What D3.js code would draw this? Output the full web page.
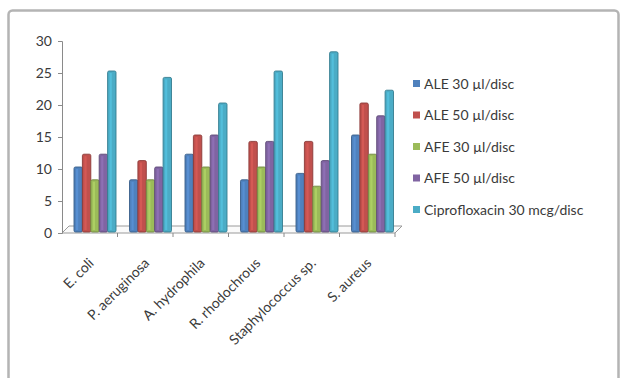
<!DOCTYPE html>
<html>
<head>
<meta charset="utf-8">
<script src="https://cdn.jsdelivr.net/npm/d3@7"></script>
<style>
  html, body { margin: 0; padding: 0; background: #fff; }
  svg { display: block; }
  text { font-family: Lato, "Open Sans", sans-serif; fill: #3a3a3a; }
</style>
</head>
<body>
<svg id="chart" width="622" height="378"></svg>
<script>
// Zone of inhibition (mm) per organism and treatment
const categories = ["E. coli", "P. aeruginosa", "A. hydrophila", "R. rhodochrous", "Staphylococcus sp.", "S. aureus"];
const seriesNames = ["ALE 30 \u00b5l/disc", "ALE 50 \u00b5l/disc", "AFE 30 \u00b5l/disc", "AFE 50 \u00b5l/disc", "Ciprofloxacin 30 mcg/disc"];
const ale30 = [10, 8, 12, 8, 9, 15];
const ale50 = [12, 11, 15, 14, 14, 20];
const afe30 = [8, 8, 10, 10, 7, 12];
const afe50 = [12, 10, 15, 14, 11, 18];
const cipro = [25, 24, 20, 25, 28, 22];
const yTicks = [0, 5, 10, 15, 20, 25, 30];
const colors = ["#4F81BD", "#C0504D", "#9BBB59", "#8064A2", "#4BACC6"];

const seriesValues = [ale30, ale50, afe30, afe50, cipro];

const svg = d3.select("#chart");

// outer frame
svg.append("rect")
  .attr("x", 8.5).attr("y", 10.5).attr("width", 610).attr("height", 380)
  .attr("rx", 4)
  .attr("fill", "none").attr("stroke", "#b4b4b4").attr("stroke-width", 2.5);

const plot = { left: 62, right: 395, top: 41, bottom: 233 };
const depth = 7; // floor depth offset

const x0 = d3.scaleBand().domain(categories).range([plot.left, plot.right]).paddingInner(0).paddingOuter(0);
const x1 = d3.scaleBand().domain(d3.range(seriesNames.length))
  .range([12, 54]).padding(0);
const y = d3.scaleLinear().domain([0, 30]).range([plot.bottom, plot.top]);

// floor
svg.append("path")
  .attr("d", `M${plot.left},${plot.bottom} L${plot.left + depth},${plot.bottom - depth} L${plot.right + depth},${plot.bottom - depth} L${plot.right},${plot.bottom} Z`)
  .attr("fill", "#fafafa").attr("stroke", "#9a9a9a").attr("stroke-width", 1);

// y axis
const yAxis = d3.axisLeft(y).tickValues(yTicks).tickSize(4).tickPadding(6);
const gy = svg.append("g").attr("transform", `translate(${plot.left},0)`).call(yAxis);
gy.select(".domain").attr("stroke", "#8a8a8a");
gy.selectAll(".tick line").attr("stroke", "#8a8a8a");
gy.selectAll("text").style("font-size", "14px").attr("fill", "#3a3a3a");

// category tick marks along the floor front edge
const tickPos = categories.map(c => x0(c) + x0.bandwidth());
svg.append("g").selectAll("line").data(tickPos).join("line")
  .attr("x1", d => d).attr("x2", d => d)
  .attr("y1", plot.bottom).attr("y2", plot.bottom + 4)
  .attr("stroke", "#8a8a8a");

// bars (with a thin top face for the 3-D look)
const groups = svg.append("g").selectAll("g").data(categories).join("g")
  .attr("transform", d => `translate(${x0(d)},0)`);

groups.each(function(cat, ci) {
  const g = d3.select(this);
  seriesValues.forEach((vals, si) => {
    const v = vals[ci];
    const bx = x1(si);
    const bw = x1.bandwidth();
    const col = d3.color(colors[si]);
    g.append("rect")
      .attr("x", bx).attr("y", y(v) - 2)
      .attr("width", bw).attr("height", plot.bottom - 1 - y(v) + 2)
      .attr("rx", 1.5)
      .attr("fill", colors[si])
      .attr("stroke", col.darker(0.9)).attr("stroke-width", 0.9);
    g.append("rect")
      .attr("x", bx + 2).attr("y", y(v))
      .attr("width", 2.2).attr("height", Math.max(0, plot.bottom - 3 - y(v)))
      .attr("fill", col.brighter(0.6)).attr("opacity", 0.45);
  });
});

// category labels
svg.append("g").selectAll("text").data(categories).join("text")
  .attr("transform", d => `translate(${x0(d) + x0.bandwidth() / 2 + 5},${plot.bottom + 31}) rotate(-45)`)
  .attr("text-anchor", "end")
  .style("font-size", "14px")
  .text(d => d);

// legend
const legend = svg.append("g").attr("transform", "translate(413,84)");
const items = legend.selectAll("g").data(seriesNames).join("g")
  .attr("transform", (d, i) => `translate(0,${i * 31.5})`);
items.append("rect")
  .attr("x", 0).attr("y", -4).attr("width", 7).attr("height", 7)
  .attr("fill", (d, i) => colors[i]);
items.append("text")
  .attr("x", 11).attr("y", 4.5)
  .style("font-size", "14px")
  .text(d => d);
</script>
</body>
</html>
